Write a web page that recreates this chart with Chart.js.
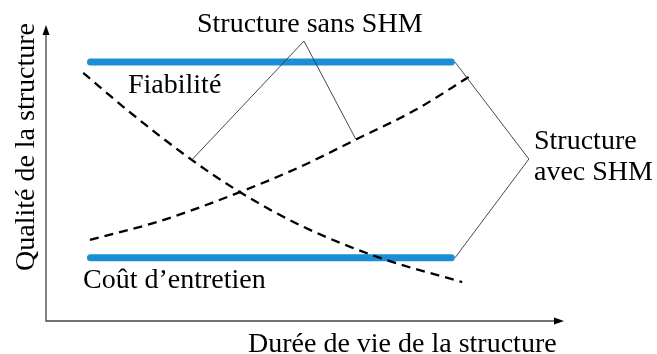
<!DOCTYPE html>
<html>
<head>
<meta charset="utf-8">
<script src="https://cdn.jsdelivr.net/npm/chart.js@4.4.1/dist/chart.umd.min.js"></script>
<style>
    html, body { margin: 0; padding: 0; background: #fff; }
    canvas { display: block; }
    .fontwarm { position: absolute; left: -9999px; top: 0; font: 28px "Liberation Serif", serif; }
</style>
</head>
<body>
<canvas id="shmChart" width="657" height="354"></canvas>
<span class="fontwarm">Qualité Coût d’entretien</span>
<script>
// curve with no SHM: reliability going down
const fiabX = [7.2, 16.2, 28.2, 37.5, 49.1, 64.6, 80.5];
const fiabY = [84.1, 70.8, 54.6, 43.7, 32.5, 21.4, 13.2];

// curve with no SHM: maintenance cost going up
const coutX = [8.5, 22.1, 37.5, 49.1, 59.8, 71.4, 82.4];
const coutY = [27.5, 33.9, 43.7, 52.2, 61.4, 71.5, 83.4];

// with SHM: flat levels
const shmX = [8.6, 78.4];
const shmFiabY = [87.8, 87.8];
const shmCoutY = [21.4, 21.4];

// leader lines for the labels
const sansX = [28.2, 49.9, 59.9];
const sansY = [54.6, 94.9, 61.7];
const avecX = [79.1, 93.4, 79.1];
const avecY = [87.8, 54.9, 21.4];

const FONT = '28px "Liberation Serif"';

function pts(xs, ys) {
    return xs.map((x, i) => ({ x: x, y: ys[i] }));
}

// axes with arrow heads
const axesPlugin = {
    id: 'axes',
    beforeDatasetsDraw(chart) {
        const ctx = chart.ctx;
        const a = chart.chartArea;
        ctx.save();
        ctx.strokeStyle = '#444';
        ctx.fillStyle = '#000';
        ctx.lineWidth = 1.3;
        ctx.beginPath();
        ctx.moveTo(a.left, a.top + 4);
        ctx.lineTo(a.left, a.bottom);
        ctx.lineTo(a.right - 4, a.bottom);
        ctx.stroke();
        // top arrow
        ctx.beginPath();
        ctx.moveTo(a.left, a.top - 1);
        ctx.lineTo(a.left - 3.5, a.top + 9);
        ctx.lineTo(a.left + 3.5, a.top + 9);
        ctx.closePath();
        ctx.fill();
        // right arrow
        ctx.beginPath();
        ctx.moveTo(a.right + 1, a.bottom);
        ctx.lineTo(a.right - 9, a.bottom - 3.5);
        ctx.lineTo(a.right - 9, a.bottom + 3.5);
        ctx.closePath();
        ctx.fill();
        ctx.restore();
    }
};

// text labels
const labelPlugin = {
    id: 'labels',
    afterDatasetsDraw(chart) {
        const ctx = chart.ctx;
        ctx.save();
        ctx.font = FONT + ', "Times New Roman", serif';
        ctx.fillStyle = '#000';
        ctx.textBaseline = 'alphabetic';
        ctx.textAlign = 'left';
        ctx.fillText('Structure sans SHM', 197, 32);
        ctx.fillText('Fiabilité', 128, 93);
        ctx.fillText('Coût d\u2019entretien', 83, 288);
        ctx.fillText('Structure', 534, 149);
        ctx.fillText('avec SHM', 534, 180);
        ctx.fillText('Durée de vie de la structure', 248, 352);
        // y axis title
        ctx.translate(34, 147);
        ctx.rotate(-Math.PI / 2);
        ctx.textAlign = 'center';
        ctx.fillText('Qualité de la structure', 0, 0);
        ctx.restore();
    }
};

function renderChart() {
    const ctx = document.getElementById('shmChart').getContext('2d');
    const dashed = {
        borderColor: '#000',
        borderWidth: 2.3,
        borderDash: [9, 6],
        pointRadius: 0,
        showLine: true,
        fill: false,
        cubicInterpolationMode: 'monotone',
        order: 2
    };
    const blue = {
        borderColor: '#1a8fd8',
        borderWidth: 7,
        borderCapStyle: 'round',
        pointRadius: 0,
        showLine: true,
        fill: false,
        order: 3
    };
    const leader = {
        borderColor: '#333',
        borderWidth: 0.9,
        pointRadius: 0,
        showLine: true,
        fill: false,
        tension: 0,
        order: 1
    };

    return new Chart(ctx, {
        type: 'scatter',
        data: {
            datasets: [
                Object.assign({ label: 'Fiabilité SHM', data: pts(shmX, shmFiabY) }, blue),
                Object.assign({ label: 'Coût SHM', data: pts(shmX, shmCoutY) }, blue),
                Object.assign({ label: 'Fiabilité', data: pts(fiabX, fiabY) }, dashed),
                Object.assign({ label: 'Coût', data: pts(coutX, coutY) }, dashed),
                Object.assign({ label: 'sans', data: pts(sansX, sansY) }, leader),
                Object.assign({ label: 'avec', data: pts(avecX, avecY) }, leader)
            ]
        },
        options: {
            responsive: false,
            animation: false,
            devicePixelRatio: 1,
            layout: {
                padding: { left: 46, right: 94, top: 26, bottom: 33 }
            },
            scales: {
                x: { type: 'linear', min: 0, max: 100, display: false },
                y: { type: 'linear', min: 0, max: 100, display: false }
            },
            plugins: {
                legend: { display: false },
                tooltip: { enabled: false }
            }
        },
        plugins: [axesPlugin, labelPlugin]
    });
}

window.addEventListener('DOMContentLoaded', () => {
    document.fonts.load(FONT, 'Qualité').then(renderChart, renderChart);
});
</script>
</body>
</html>
